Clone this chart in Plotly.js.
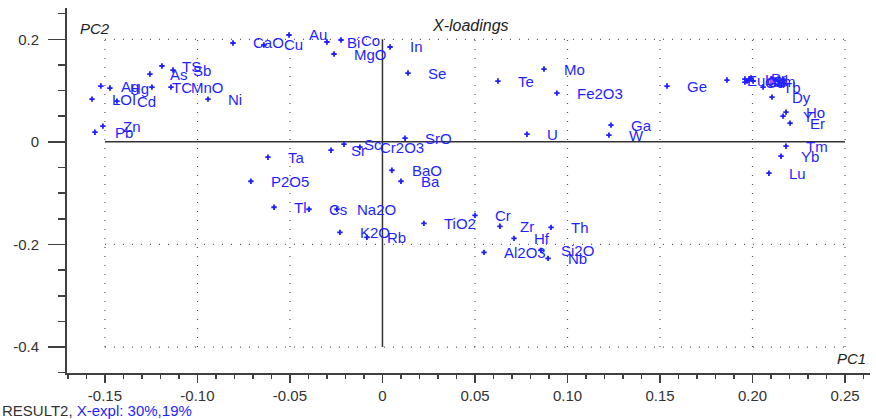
<!DOCTYPE html>
<html><head><meta charset="utf-8">
<script src="https://cdn.plot.ly/plotly-3.0.1.min.js"></script>
<style>html,body{margin:0;padding:0;background:#fff;}#chart{width:876px;height:419px;}</style>
</head><body><div id="chart"></div>
<script>
const labels = ["Ni","CaO","Cu","Au","Bi","Co","MgO","In","Se","SrO",
  "TS","Sb","As","TC","MnO","Ag","Hg","LOI","Cd","Zn","Pb",
  "Mo","Te","Fe2O3","Ge","U","Ga","W",
  "Eu","La","Ce","Pr","Nd","Sm","Gd","Tb","Dy","Ho","Y","Er","Tm","Yb","Lu",
  "Ta","P2O5","Tl","Cs","Na2O","K2O","Rb","Sr","Sc","Cr2O3","BaO","Ba",
  "TiO2","Cr","Zr","Hf","Th","Al2O3","Nb","Si2O"];
const pc1 = [-0.0943,-0.0808,-0.0641,-0.0505,-0.0300,-0.0224,-0.0262,0.0041,0.0138,0.0122,
  -0.1192,-0.1132,-0.1257,-0.1246,-0.1143,-0.1522,-0.1473,-0.1570,-0.1435,-0.1511,-0.1554,
  0.0873,0.0624,0.0943,0.1538,0.0781,0.1235,0.1224,
  0.1862,0.1959,0.1970,0.1992,0.1981,0.2003,0.1959,0.2057,0.2105,0.2181,0.2165,0.2203,0.2181,0.2154,0.2089,
  -0.0619,-0.0711,-0.0586,-0.0397,-0.0246,-0.0230,-0.0084,-0.0278,-0.0208,-0.0122,0.0051,0.0100,
  0.0224,0.0500,0.0635,0.0711,0.0911,0.0549,0.0895,0.0857];
const pc2 = [0.0834,0.1928,0.1889,0.2084,0.1947,0.1986,0.1713,0.1850,0.1342,0.0072,
  0.1479,0.1400,0.1322,0.1068,0.1068,0.1088,0.1049,0.0834,0.0795,0.0307,0.0189,
  0.1420,0.1186,0.0951,0.1088,0.0150,0.0326,0.0131,
  0.1205,0.1225,0.1186,0.1244,0.1205,0.1186,0.1166,0.1068,0.0873,0.0580,0.0502,0.0365,-0.0084,-0.0279,-0.0611,
  -0.0299,-0.0768,-0.1275,-0.1314,-0.1314,-0.1764,-0.1861,-0.0162,-0.0045,-0.0104,-0.0553,-0.0768,
  -0.1588,-0.1432,-0.1646,-0.1881,-0.1666,-0.2154,-0.2271,-0.2115];
const xTickVals = [-0.15,-0.10,-0.05,0,0.05,0.10,0.15,0.20,0.25];
const xTickText = ["-0.15","-0.10","-0.05","0","0.05","0.10","0.15","0.20","0.25"];
const yTickVals = [0.2,0,-0.2,-0.4];
const yTickText = ["0.2","0","-0.2","-0.4"];

const blue = '#1f1fff';
const axisCol = '#404040';
const labFont = {family:'Arial, "Liberation Sans", sans-serif', size:15, color:blue};
const tickFont = {family:'Arial, "Liberation Sans", sans-serif', size:15, color:'#333'};

const xMin = Math.min(...xTickVals), xMax = Math.max(...xTickVals);
const yMin = Math.min(...yTickVals), yMax = Math.max(...yTickVals);
const shapes = [];
xTickVals.forEach(v => {
  shapes.push({type:'line', xref:'x', yref:'y', x0:v, x1:v, y0:yMin, y1:yMax,
    line: v===0 ? {color:'#333', width:1.5} : {color:'#555', width:1.2, dash:'1px,8px'}, layer:'below'});
});
yTickVals.forEach(v => {
  shapes.push({type:'line', xref:'x', yref:'y', x0:xMin, x1:xMax, y0:v, y1:v,
    line: v===0 ? {color:'#333', width:1.5} : {color:'#555', width:1.2, dash:'1px,8px'}, layer:'below'});
});

const annotations = labels.map((t,i) => ({
  x: pc1[i], y: pc2[i], xref:'x', yref:'y', text: t, showarrow:false,
  xanchor:'left', yanchor:'middle', xshift:18, font: labFont
}));
annotations.push({xref:'paper', yref:'paper', x:0.503, y:0.953, text:'<i>X-loadings</i>', showarrow:false,
  xanchor:'center', yanchor:'middle', font:{family:'Arial, sans-serif', size:16, color:'#222'}});
annotations.push({xref:'paper', yref:'paper', x:0.014, y:0.945, text:'<i>PC2</i>', showarrow:false,
  xanchor:'left', yanchor:'middle', font:{family:'Arial, sans-serif', size:15, color:'#222'}});
annotations.push({xref:'paper', yref:'paper', x:0.998, y:0.041, text:'<i>PC1</i>', showarrow:false,
  xanchor:'right', yanchor:'middle', font:{family:'Arial, sans-serif', size:15, color:'#222'}});
annotations.push({xref:'paper', yref:'paper', x:-0.083, y:-0.104, text:'RESULT2, <span style="color:#1f1fff">X-expl: 30%,19%</span>', showarrow:false,
  xanchor:'left', yanchor:'middle', font:{family:'Arial, sans-serif', size:15, color:'#333'}});

const trace = {
  x: pc1, y: pc2, type:'scatter', mode:'markers',
  marker:{symbol:'cross', size:4.5, color:blue}, hoverinfo:'none'
};

const layout = {
  width:876, height:419,
  margin:{l:67, r:6, t:8, b:46},
  paper_bgcolor:'#fff', plot_bgcolor:'#fff',
  showlegend:false,
  xaxis:{range:[-0.1705,0.2635], tickmode:'array', tickvals:xTickVals, ticktext:xTickText,
    showgrid:false, zeroline:false, showline:true, linecolor:axisCol, linewidth:2,
    ticks:'outside', ticklen:8, tickwidth:1.5, tickcolor:axisCol, tickfont:tickFont,
    minor:{dtick:0.01, tick0:0, ticks:'outside', ticklen:4, tickwidth:1.2, tickcolor:axisCol, showgrid:false}},
  yaxis:{range:[-0.4506,0.261], tickmode:'array', tickvals:yTickVals, ticktext:yTickText,
    showgrid:false, zeroline:false, showline:true, linecolor:axisCol, linewidth:2,
    ticks:'outside', ticklen:17, tickwidth:1.5, tickcolor:axisCol, tickfont:tickFont, ticklabelstandoff:6,
    minor:{dtick:0.05, tick0:0, ticks:'outside', ticklen:7, tickwidth:1.5, tickcolor:axisCol, showgrid:false}},
  shapes: shapes,
  annotations: annotations
};
Plotly.newPlot('chart', [trace], layout, {displayModeBar:false, staticPlot:true});
</script>
</body></html>
